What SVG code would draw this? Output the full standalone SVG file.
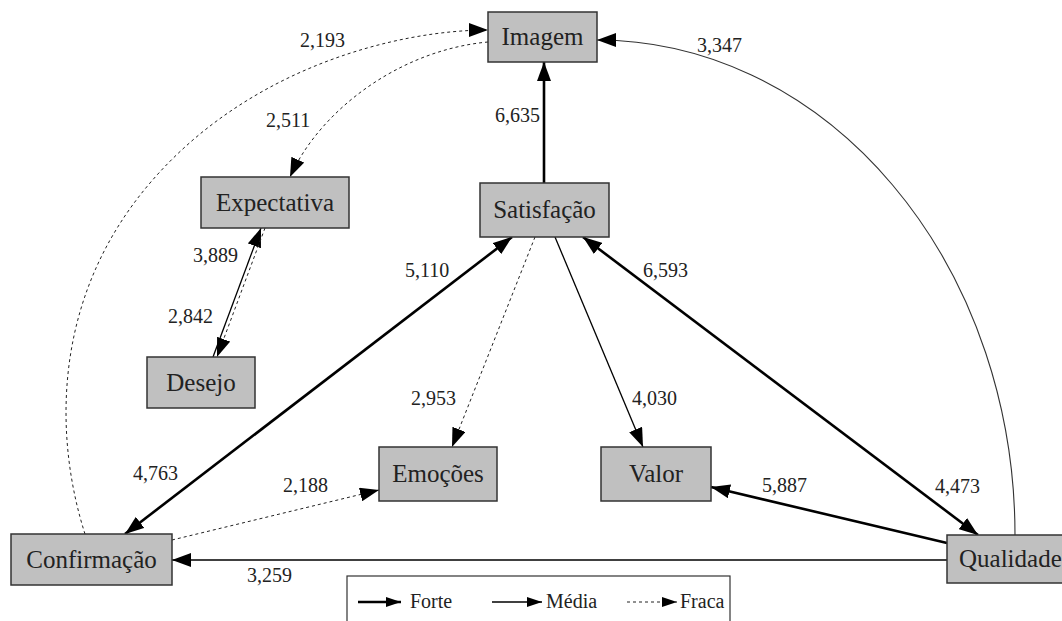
<svg xmlns="http://www.w3.org/2000/svg" width="1062" height="621" viewBox="0 0 1062 621">
<style>
.box{fill:#c0c0c0;stroke:#333;stroke-width:1.5}
.nt{font-family:"Liberation Serif","Times New Roman",serif;font-size:25px;fill:#222;text-anchor:middle}
.lb{font-family:"Liberation Serif","Times New Roman",serif;font-size:20px;fill:#222}
.forte{fill:none;stroke:#000;stroke-width:2.6}
.media{fill:none;stroke:#000;stroke-width:1.3}
.fraca{fill:none;stroke:#222;stroke-width:1;stroke-dasharray:3 3}
.arc{fill:none;stroke:#333;stroke-width:1.1}
</style>
<defs>
<marker id="ah" markerUnits="userSpaceOnUse" markerWidth="19" markerHeight="14" refX="19" refY="7" orient="auto-start-reverse" viewBox="0 0 19 14">
<path d="M0,0 L19,7 L0,14 z" fill="#000"/>
</marker>
<marker id="ahs" markerUnits="userSpaceOnUse" markerWidth="15" markerHeight="10" refX="15" refY="5" orient="auto" viewBox="0 0 15 10">
<path d="M0,0 L15,5 L0,10 z" fill="#000"/>
</marker>
</defs>
<rect width="1062" height="621" fill="#fff"/>
<g id="connectors">
<line class="forte" x1="544" y1="183" x2="544" y2="62" marker-end="url(#ah)"/>
<path class="fraca" d="M488,42 C400,50 320,110 290,177" marker-end="url(#ah)"/>
<path class="fraca" d="M85,534 C55,440 50,300 150,183 S400,30 488,30" marker-end="url(#ah)"/>
<line class="media" x1="213" y1="357" x2="261" y2="228" marker-end="url(#ah)"/>
<line class="fraca" x1="265" y1="228" x2="217" y2="357" marker-end="url(#ah)"/>
<line class="forte" x1="125" y1="534" x2="512" y2="237" marker-start="url(#ah)" marker-end="url(#ah)"/>
<line class="fraca" x1="535" y1="237" x2="452" y2="447" marker-end="url(#ah)"/>
<line class="media" x1="555" y1="237" x2="643" y2="447" marker-end="url(#ah)"/>
<line class="forte" x1="978" y1="535" x2="583" y2="237" marker-start="url(#ah)" marker-end="url(#ah)"/>
<line class="forte" x1="947" y1="543" x2="711" y2="487" marker-end="url(#ah)"/>
<line class="media" x1="947" y1="560" x2="172" y2="560" marker-end="url(#ah)"/>
<line class="fraca" x1="172" y1="540" x2="379" y2="490" marker-end="url(#ah)"/>
<path class="arc" d="M1015,535 A418,495 0 0 0 597,40" marker-end="url(#ah)"/>
</g>
<g id="labels">
<text class="lb" x="300" y="47">2,193</text>
<text class="lb" x="697" y="52">3,347</text>
<text class="lb" x="266" y="127">2,511</text>
<text class="lb" x="495" y="122">6,635</text>
<text class="lb" x="193" y="262">3,889</text>
<text class="lb" x="168" y="323">2,842</text>
<text class="lb" x="405" y="277">5,110</text>
<text class="lb" x="643" y="277">6,593</text>
<text class="lb" x="411" y="405">2,953</text>
<text class="lb" x="632" y="405">4,030</text>
<text class="lb" x="133" y="480">4,763</text>
<text class="lb" x="283" y="492">2,188</text>
<text class="lb" x="762" y="492">5,887</text>
<text class="lb" x="935" y="493">4,473</text>
<text class="lb" x="247" y="582">3,259</text>
</g>
<g id="n-imagem"><rect class="box" x="488" y="12" width="109" height="50"/><text class="nt" x="542.5" y="45">Imagem</text></g>
<g id="n-satisfacao"><rect class="box" x="480" y="183" width="129" height="54"/><text class="nt" x="544.5" y="218">Satisfação</text></g>
<g id="n-expectativa"><rect class="box" x="201" y="177" width="148" height="51"/><text class="nt" x="275" y="210.5">Expectativa</text></g>
<g id="n-desejo"><rect class="box" x="147" y="357" width="108" height="51"/><text class="nt" x="201" y="390.5">Desejo</text></g>
<g id="n-emocoes"><rect class="box" x="379" y="447" width="118" height="54"/><text class="nt" x="438" y="482">Emoções</text></g>
<g id="n-valor"><rect class="box" x="601" y="447" width="110" height="54"/><text class="nt" x="656" y="482">Valor</text></g>
<g id="n-confirmacao"><rect class="box" x="11" y="534" width="161" height="51"/><text class="nt" x="91.5" y="567.5">Confirmação</text></g>
<g id="n-qualidade"><rect class="box" x="947" y="535" width="130" height="48"/><text class="nt" x="959" y="567" style="text-anchor:start">Qualidade</text></g>
<g id="legend">
<rect x="347" y="576" width="383" height="60" fill="#fff" stroke="#333" stroke-width="1.2"/>
<line x1="358" y1="602" x2="401" y2="602" stroke="#000" stroke-width="2.6" marker-end="url(#ahs)"/>
<text class="lb" x="410" y="608">Forte</text>
<line x1="492" y1="602" x2="542" y2="602" stroke="#000" stroke-width="1.3" marker-end="url(#ahs)"/>
<text class="lb" x="546" y="608">Média</text>
<line x1="627" y1="602" x2="677" y2="602" stroke="#222" stroke-width="1" stroke-dasharray="3 3" marker-end="url(#ahs)"/>
<text class="lb" x="680" y="608">Fraca</text>
</g>
</svg>
